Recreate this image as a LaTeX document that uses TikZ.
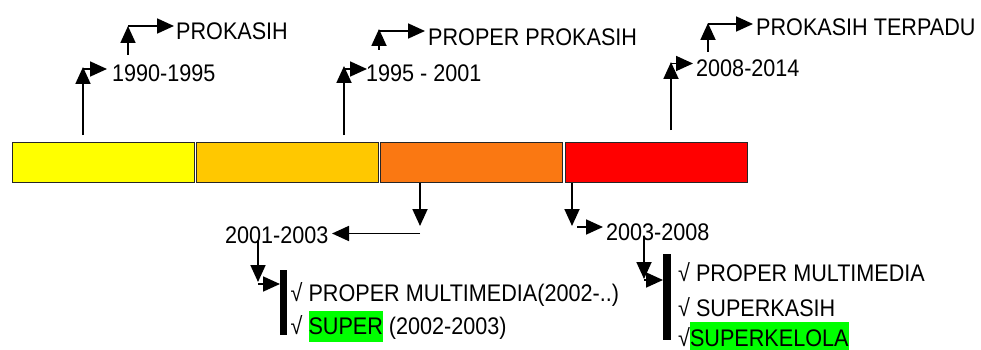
\documentclass[tikz,border=0pt]{standalone}
\usepackage{fontspec}
\setmainfont{Liberation Sans}[FakeStretch=0.9]
\usetikzlibrary{arrows.meta}
\definecolor{cA}{RGB}{255,255,0}
\definecolor{cB}{RGB}{255,200,0}
\definecolor{cC}{RGB}{250,120,18}
\definecolor{cD}{RGB}{255,0,0}
\definecolor{hl}{RGB}{0,255,0}
\begin{document}
\begin{tikzpicture}[x=1pt,y=-1pt,
  bar/.style={draw=black!85,line width=1.5pt,minimum width=182pt,minimum height=40pt,inner sep=0pt},
  lbl/.style={anchor=base west,inner sep=0pt,font=\fontsize{24}{27}\selectfont},
  conn/.style={line width=1.8pt,-{Triangle[length=17pt,width=15pt]}},
  thick bar/.style={fill=black,draw=none}]
\useasboundingbox (0,0) rectangle (981,350);
\setlength\fboxsep{0pt}
% bars
\node[bar,fill=cA] (b1) at (103.5,162.5) {};
\node[bar,fill=cB] (b2) at (287.5,162.5) {};
\node[bar,fill=cC] (b3) at (471.5,162.5) {};
\node[bar,fill=cD] (b4) at (656.5,162.5) {};
% upper labels
\node[lbl] (t1) at (112,81.5) {1990-1995};
\node[lbl] (p1) at (176,40) {PROKASIH};
\node[lbl] (t2) at (366,81.5) {1995 - 2001};
\node[lbl] (p2) at (428,45.5) {PROPER PROKASIH};
\node[lbl] (t4) at (696,76.5) {2008-2014};
\node[lbl] (p4) at (756,36) {PROKASIH TERPADU};
% lower labels
\node[lbl] (t3) at (225,243) {2001-2003};
\node[lbl] (t5) at (606,240.5) {2003-2008};
\node[lbl] (l1) at (290.5,301.5) {√ PROPER MULTIMEDIA(2002-..)};
\node[lbl] (l2) at (290.5,334) {√ \colorbox{hl}{\rule[-8pt]{0pt}{31pt}SUPER} (2002-2003)};
\node[lbl] (r1) at (678,281.5) {√ PROPER MULTIMEDIA};
\node[lbl] (r2) at (678,316) {√ SUPERKASIH};
\node[lbl] (r3) at (678,346.5) {√\colorbox{hl}{\rule[-8pt]{0pt}{32.5pt}SUPERKELOLA}};
% thick vertical bars
\node[thick bar,minimum width=7.5pt,minimum height=65pt,inner sep=0pt] (k1) at (283.7,302.5) {};
\node[thick bar,minimum width=7.5pt,minimum height=86pt,inner sep=0pt] (k2) at (667,297) {};
% coordinates
\coordinate (a1s) at (83,135);
\coordinate (a1t) at (83,67);
\coordinate (a1h) at (83,69);
\coordinate (a1e) at (107,69);
\coordinate (u1s) at (128,55);
\coordinate (u1t) at (128,26);
\coordinate (u1h) at (128,26);
\coordinate (u1e) at (174,26);
\coordinate (a2s) at (344,135);
\coordinate (a2t) at (344,66);
\coordinate (a2h) at (344,69);
\coordinate (a2e) at (367,69);
\coordinate (u2s) at (379,50);
\coordinate (u2t) at (379,29);
\coordinate (u2h) at (379,31);
\coordinate (u2e) at (425,31);
\coordinate (a4s) at (671,130);
\coordinate (a4t) at (671,62);
\coordinate (a4h) at (671,63.5);
\coordinate (a4e) at (693,63.5);
\coordinate (u4s) at (708,52);
\coordinate (u4t) at (708,23);
\coordinate (u4h) at (708,24);
\coordinate (u4e) at (753,24);
\coordinate (d3s) at (420,183);
\coordinate (d3t) at (420,226);
\coordinate (d3h) at (420,233.5);
\coordinate (d3e) at (332,233.5);
\coordinate (e3s) at (258,240);
\coordinate (e3t) at (258,282);
\coordinate (e3h) at (258,284);
\coordinate (e3e) at (280,284);
\coordinate (d4s) at (572,183);
\coordinate (d4t) at (572,226);
\coordinate (d4h) at (577,227);
\coordinate (d4e) at (603,227);
\coordinate (e4s) at (644,237);
\coordinate (e4t) at (644,279);
\coordinate (e4h) at (644,280);
\coordinate (e4e) at (663,280);
% connectors
\draw[conn] (a1s) -- (a1t);
\draw[conn] (a1h) -- (a1e);
\draw[conn] (u1s) -- (u1t);
\draw[conn] (u1h) -- (u1e);
\draw[conn] (a2s) -- (a2t);
\draw[conn] (a2h) -- (a2e);
\draw[conn] (u2s) -- (u2t);
\draw[conn] (u2h) -- (u2e);
\draw[conn] (a4s) -- (a4t);
\draw[conn] (a4h) -- (a4e);
\draw[conn] (u4s) -- (u4t);
\draw[conn] (u4h) -- (u4e);
\draw[conn] (d3s) -- (d3t);
\draw[conn] (d3h) -- (d3e);
\draw[conn] (e3s) -- (e3t);
\draw[conn] (e3h) -- (e3e);
\draw[conn] (d4s) -- (d4t);
\draw[conn] (d4h) -- (d4e);
\draw[conn] (e4s) -- (e4t);
\draw[conn] (e4h) -- (e4e);
\end{tikzpicture}
\end{document}
